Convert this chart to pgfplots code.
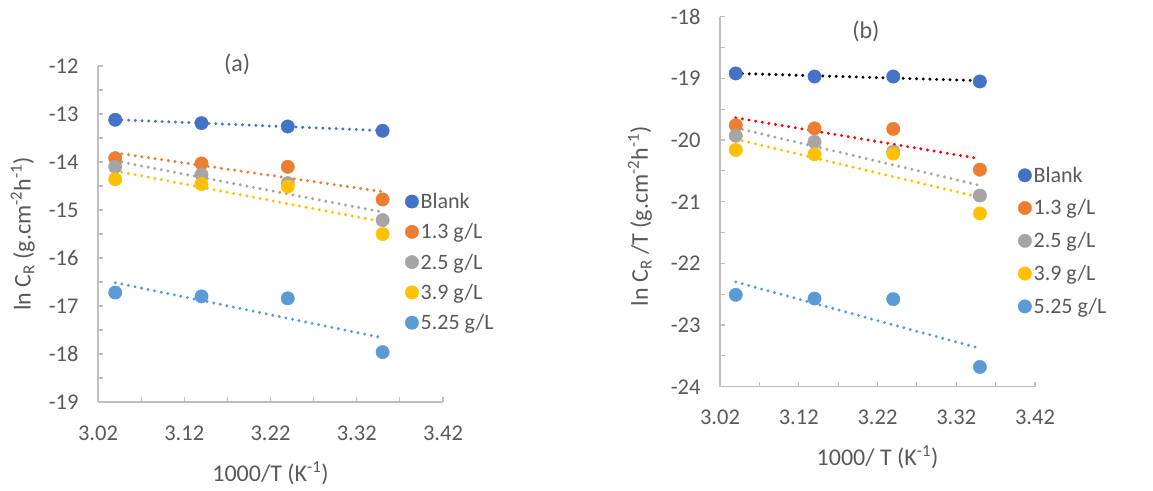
\documentclass[border=0pt]{standalone}
\usepackage{fontspec}
\setmainfont{Carlito}
\usepackage{pgfplots}
\usepackage{pgfplotstable}
\pgfplotsset{compat=1.18}
\definecolor{cBlank}{HTML}{4472C4}
\definecolor{cA}{HTML}{ED7D31}
\definecolor{cB}{HTML}{A5A5A5}
\definecolor{cC}{HTML}{FFC000}
\definecolor{cD}{HTML}{5B9BD5}
\definecolor{txt}{HTML}{595959}
\definecolor{axc}{HTML}{BFBFBF}
\pgfplotstableread{
x blank c13 c25 c39 c525
3.04 -13.12 -13.92 -14.10 -14.36 -16.72
3.14 -13.19 -14.03 -14.26 -14.46 -16.80
3.24 -13.26 -14.10 -14.44 -14.51 -16.84
3.35 -13.35 -14.78 -15.21 -15.50 -17.96
}\dataA
\pgfplotstableread{
x blank c13 c25 c39 c525
3.04 -18.92 -19.76 -19.93 -20.16 -22.51
3.14 -18.97 -19.81 -20.03 -20.23 -22.57
3.24 -18.97 -19.82 -20.19 -20.22 -22.58
3.35 -19.05 -20.48 -20.90 -21.19 -23.68
}\dataB
\pgfplotsset{
  myaxis/.style={
    scale only axis,
    axis lines=left,
    axis line style={-, draw=axc, line width=1.3pt},
    tick align=inside,
    major tick length=5pt, minor tick length=5pt,
    every tick/.style={draw=axc, line width=1.1pt},
    tick label style={font=\fontsize{22.5}{26}\selectfont, text=txt},
    label style={font=\fontsize{24}{28}\selectfont, text=txt},
    xmin=3.02, xmax=3.42,
    xtick={3.02,3.12,3.22,3.32,3.42},
    xticklabels={3.02,3.12,3.22,3.32,3.42},
    minor xtick={3.07,3.17,3.27,3.37},
    /pgf/number format/assume math mode=true,
    xticklabel style={yshift=-20pt},
    yticklabel style={xshift=-16pt},
    clip=false,
    legend cell align=left,
    legend image code/.code={\draw[#1] plot coordinates {(0pt,0pt)};},
    legend style={draw=none, fill=none, font=\fontsize{22}{26}\selectfont, text=txt,
      inner sep=0pt},
    mk/.style={only marks, mark=*, mark size=6.7pt, color=##1},
    tl/.style={forget plot, line width=3.3pt, line cap=round, dash pattern=on 0pt off 6.7pt, draw=##1},
  }
}
\begin{document}
\begin{tikzpicture}
\path[use as bounding box] (0,0) rectangle (1153pt,490pt);
% panel (a)
\begin{axis}[myaxis, at={(98pt,88pt)}, anchor=south west,
  width=345pt, height=336pt,
  ymin=-19, ymax=-12, ytick={-19,-18,...,-12}, minor ytick={-18.5,-17.5,...,-12.5},
  xlabel={1000/T (K\textsuperscript{-1})},
  ylabel={ln C\textsubscript{R} (g.cm\textsuperscript{-2}h\textsuperscript{-1})},
  xlabel style={at={(axis description cs:0.5,-0.211)}, anchor=center},
  ylabel style={at={(axis description cs:-0.218,0.5)}, anchor=center},
  legend style={at={(axis description cs:0.89,0.628)}, anchor=north west, row sep=9.5pt},
]
\addplot[mk=cBlank] table[x=x,y=blank] {\dataA};
\addplot[mk=cA] table[x=x,y=c13] {\dataA};
\addplot[mk=cB] table[x=x,y=c25] {\dataA};
\addplot[mk=cC] table[x=x,y=c39] {\dataA};
\addplot[mk=cD] table[x=x,y=c525] {\dataA};
\legend{Blank,1.3 g/L,2.5 g/L,3.9 g/L,5.25 g/L}
\addplot[tl=cBlank] table[x=x,y={create col/linear regression={y=blank}}] {\dataA};
\addplot[tl=cA] table[x=x,y={create col/linear regression={y=c13}}] {\dataA};
\addplot[tl=cB] table[x=x,y={create col/linear regression={y=c25}}] {\dataA};
\addplot[tl=cC] table[x=x,y={create col/linear regression={y=c39}}] {\dataA};
\addplot[tl=cD] table[x=x,y={create col/linear regression={y=c525}}] {\dataA};
\node[font=\fontsize{24}{28}\selectfont, text=txt] at (rel axis cs:0.403,1.006) {(a)};
\end{axis}
% panel (b)
\begin{axis}[myaxis, at={(720pt,103.3pt)}, anchor=south west,
  width=315pt, height=370pt,
  ymin=-24, ymax=-18, ytick={-24,-23,...,-18}, minor ytick={-23.5,-22.5,...,-18.5},
  xlabel={1000/ T (K\textsuperscript{-1})},
  ylabel={ln C\textsubscript{R} /T (g.cm\textsuperscript{-2}h\textsuperscript{-1})},
  xlabel style={at={(axis description cs:0.5,-0.19)}, anchor=center},
  ylabel style={at={(axis description cs:-0.254,0.461)}, anchor=center},
  legend style={at={(axis description cs:0.946,0.6)}, anchor=north west, row sep=12pt},
]
\addplot[mk=cBlank] table[x=x,y=blank] {\dataB};
\addplot[mk=cA] table[x=x,y=c13] {\dataB};
\addplot[mk=cB] table[x=x,y=c25] {\dataB};
\addplot[mk=cC] table[x=x,y=c39] {\dataB};
\addplot[mk=cD] table[x=x,y=c525] {\dataB};
\legend{Blank,1.3 g/L,2.5 g/L,3.9 g/L,5.25 g/L}
\addplot[tl=black] table[x=x,y={create col/linear regression={y=blank}}] {\dataB};
\addplot[tl=red] table[x=x,y={create col/linear regression={y=c13}}] {\dataB};
\addplot[tl=cB] table[x=x,y={create col/linear regression={y=c25}}] {\dataB};
\addplot[tl=cC] table[x=x,y={create col/linear regression={y=c39}}] {\dataB};
\addplot[tl=cD] table[x=x,y={create col/linear regression={y=c525}}] {\dataB};
\node[font=\fontsize{24}{28}\selectfont, text=txt] at (rel axis cs:0.463,0.959) {(b)};
\end{axis}
\end{tikzpicture}
\end{document}
